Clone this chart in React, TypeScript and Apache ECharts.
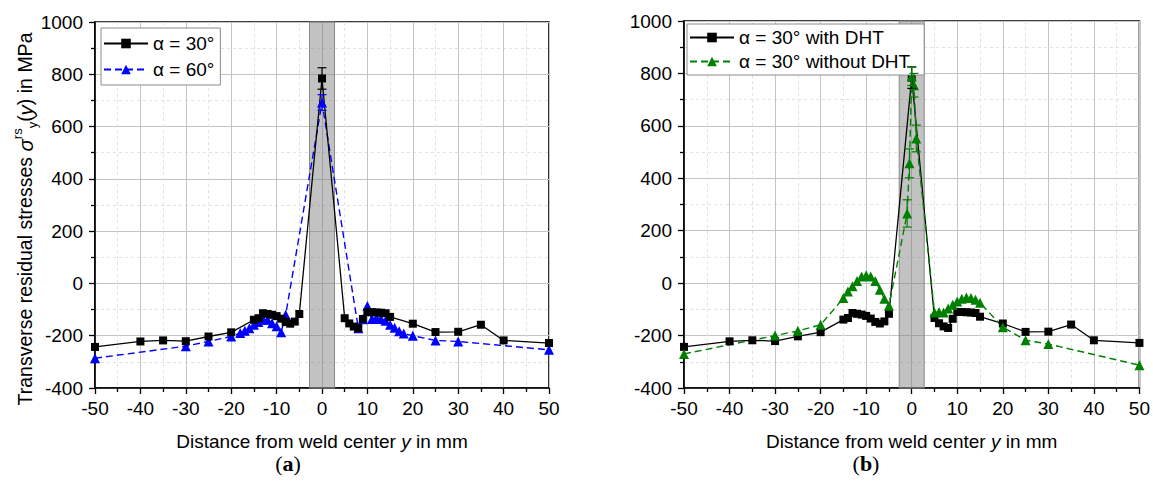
import React, { useEffect, useRef } from "react";
import * as echarts from "echarts";

// ---------- data ----------
const xBlack = [-50, -40, -35, -30, -25, -20, -15, -14, -13, -12, -11, -10, -9, -8, -7, -6, -5, 0, 5, 6, 7, 8, 9, 10, 11, 12, 13, 14, 15, 20, 25, 30, 35, 40, 50];
const yBlack = [-243, -222, -218, -221, -203, -187, -139, -133, -114, -117, -120, -125, -135, -148, -154, -146, -117, 784, -133, -153, -165, -171, -136, -110, -110, -111, -112, -114, -128, -154, -186, -185, -158, -218, -228];

const xBlue = [-50, -30, -25, -20, -18, -17, -16, -15, -14, -13, -12, -11, -10, -9, -8, 0, 8, 9, 10, 11, 12, 13, 14, 15, 16, 17, 18, 20, 25, 30, 50];
const yBlue = [-286, -240, -222, -203, -190, -181, -171, -158, -148, -139, -139, -152, -164, -187, -120, 692, -171, -137, -86, -136, -132, -136, -143, -158, -170, -183, -192, -200, -218, -222, -254];

const xGreen = [-50, -30, -25, -20, -15, -14, -13, -12, -11, -10, -9, -8, -7, -6, -5, -1, -0.5, 0, 0.5, 1, 5, 6, 7, 8, 9, 10, 11, 12, 13, 14, 15, 20, 25, 30, 50];
const yGreen = [-270, -200, -182, -159, -57, -32, -12, 8, 25, 30, 25, 8, -25, -60, -86, 266, 457, 789, 755, 552, -112, -110, -112, -97, -82, -70, -60, -55, -57, -63, -75, -168, -218, -232, -313];

const errBlackX = [0];
const errBlack = [41];
const errBlueX = [0];
const errBlue = [30];
const errGreenX = [-1, -0.5, 0, 0.5, 1];
const errGreen = [52, 55, 35, 45, 51];

const weldZone = [-2.75, 2.75];

const nameA1 = "α = 30°";
const nameA2 = "α = 60°";
const nameB1 = "α = 30° with DHT";
const nameB2 = "α = 30° without DHT";

// ---------- helpers ----------
const FONT = "Liberation Sans";
const FS = 19;
const pairs = (xs: number[], ys: number[]) => xs.map((x, i) => [x, ys[i]]);
const errData = (ex: number[], ee: number[], xs: number[], ys: number[]) =>
  ex.map((x, i) => {
    const c = ys[xs.indexOf(x)];
    return [x, c - ee[i], c + ee[i]];
  });

const plain = (v: number) => String(v);

function xAxisCfg(gridIndex: number) {
  return {
    type: "value",
    gridIndex,
    min: -50,
    max: 50,
    interval: 10,
    name: "Distance from weld center {i|y} in mm",
    nameLocation: "middle",
    nameGap: 44,
    nameTextStyle: {
      fontFamily: FONT,
      fontSize: FS,
      color: "#000",
      rich: { i: { fontFamily: FONT, fontSize: FS, fontStyle: "italic", color: "#000" } },
    },
    axisLine: { show: true, onZero: false, lineStyle: { color: "#000", width: 1.6 } },
    axisTick: { show: true, inside: false, length: 6, lineStyle: { color: "#000", width: 1.3 } },
    minorTick: { show: true, splitNumber: 2, length: 4, lineStyle: { color: "#000", width: 1.3 } },
    axisLabel: { fontFamily: FONT, fontSize: FS, color: "#000", margin: 11, formatter: plain },
    splitLine: { show: true, lineStyle: { color: "#c4c4c4", width: 1 } },
    minorSplitLine: { show: true, lineStyle: { color: "#e2e2e2", width: 1, type: [3, 3] } },
  };
}

function yAxisCfg(gridIndex: number) {
  return {
    type: "value",
    gridIndex,
    min: -400,
    max: 1000,
    interval: 200,
    axisLine: { show: true, onZero: false, lineStyle: { color: "#000", width: 1.6 } },
    axisTick: { show: true, inside: false, length: 6, lineStyle: { color: "#000", width: 1.3 } },
    minorTick: { show: true, splitNumber: 2, length: 4, lineStyle: { color: "#000", width: 1.3 } },
    axisLabel: { fontFamily: FONT, fontSize: FS, color: "#000", margin: 12, formatter: plain },
    splitLine: { show: true, lineStyle: { color: "#c4c4c4", width: 1 } },
    minorSplitLine: { show: true, lineStyle: { color: "#e2e2e2", width: 1, type: [3, 3] } },
  };
}

function bandSeries(idx: number) {
  return {
    type: "custom",
    xAxisIndex: idx,
    yAxisIndex: idx,
    z: 1,
    silent: true,
    data: [[weldZone[0], weldZone[1], 0]],
    encode: { x: [0, 1], y: 2 },
    renderItem: (params: any, api: any) => {
      const cs = params.coordSys;
      const p0 = api.coord([api.value(0), 0]);
      const p1 = api.coord([api.value(1), 0]);
      return {
        type: "rect",
        shape: { x: p0[0], y: cs.y, width: p1[0] - p0[0], height: cs.height },
        style: { fill: "rgba(120,120,120,0.45)", stroke: "#8a8a8a", lineWidth: 1 },
      };
    },
  };
}

function errSeries(idx: number, data: number[][], color: string) {
  return {
    type: "custom",
    xAxisIndex: idx,
    yAxisIndex: idx,
    z: 4,
    silent: true,
    data,
    encode: { x: 0, y: [1, 2] },
    renderItem: (_params: any, api: any) => {
      const x = api.value(0);
      const lo = api.coord([x, api.value(1)]);
      const hi = api.coord([x, api.value(2)]);
      const w = 4.5;
      const st = { stroke: color, lineWidth: 1.2 };
      return {
        type: "group",
        children: [
          { type: "line", shape: { x1: hi[0], y1: hi[1], x2: lo[0], y2: lo[1] }, style: st },
          { type: "line", shape: { x1: hi[0] - w, y1: hi[1], x2: hi[0] + w, y2: hi[1] }, style: st },
          { type: "line", shape: { x1: lo[0] - w, y1: lo[1], x2: lo[0] + w, y2: lo[1] }, style: st },
        ],
      };
    },
  };
}

function lineSeries(idx: number, name: string, data: number[][], color: string, dashed: boolean, symbol: string, size: number) {
  return {
    type: "line",
    name,
    xAxisIndex: idx,
    yAxisIndex: idx,
    z: 3,
    data,
    symbol,
    symbolSize: size,
    showAllSymbol: true,
    itemStyle: { color },
    lineStyle: { color, width: dashed ? 1.4 : 1.3, type: dashed ? [7, 4] : "solid" },
  };
}

const legendBase = {
  orient: "vertical",
  itemWidth: 44,
  itemHeight: 12,
  backgroundColor: "#fff",
  borderColor: "#8c8c8c",
  borderWidth: 1,
  borderRadius: 0,
  textStyle: { fontFamily: FONT, fontSize: FS, color: "#000" },
};

const caption = (x: number, letter: string) => ({
  type: "text",
  x,
  y: 463,
  style: {
    text: "({b|" + letter + "})",
    fontFamily: "Liberation Serif",
    fontSize: 22,
    fill: "#000",
    align: "center",
    verticalAlign: "middle",
    rich: { b: { fontFamily: "Liberation Serif", fontSize: 22, fontWeight: "bold", fill: "#000" } },
  },
});

export default function App() {
  const ref = useRef<HTMLDivElement>(null);
  useEffect(() => {
    if (!ref.current) return;
    const chart = echarts.init(ref.current, undefined, { renderer: "svg" });
    const option = {
      animation: false,
      backgroundColor: "#fff",
      grid: [
        { left: 95, top: 22, width: 454, height: 366, show: true, borderColor: "#000", borderWidth: 1.6, backgroundColor: "transparent" },
        { left: 684, top: 21, width: 457, height: 367, show: true, borderColor: "#000", borderWidth: 1.6, backgroundColor: "transparent" },
      ],
      xAxis: [xAxisCfg(0), xAxisCfg(1)],
      yAxis: [yAxisCfg(0), yAxisCfg(1)],
      legend: [
        { ...legendBase, data: [nameA1, nameA2], left: 101, top: 28, itemGap: 7, padding: [6, 6, 6, 2] },
        { ...legendBase, data: [nameB1, nameB2], left: 687, top: 24, itemGap: 5, padding: [4, 14, 4, 2] },
      ],
      graphic: [
        {
          type: "text",
          x: 25,
          y: 219,
          rotation: Math.PI / 2,
          style: {
            text: "Transverse residual stresses {it|σ}{sup|rs}{sub|y}({it|y}) in MPa",
            fontFamily: FONT,
            fontSize: 19.5,
            fill: "#000",
            align: "center",
            verticalAlign: "middle",
            rich: {
              it: { fontFamily: FONT, fontSize: 20.5, fontStyle: "italic", fill: "#000", lineHeight: 28 },
              sup: { fontFamily: FONT, fontSize: 13, fill: "#000", verticalAlign: "top", lineHeight: 15 },
              sub: { fontFamily: FONT, fontSize: 13, fill: "#000", verticalAlign: "bottom", lineHeight: 15 },
            },
          },
        },
        caption(288, "a"),
        caption(866, "b"),
      ],
      series: [
        bandSeries(0),
        bandSeries(1),
        lineSeries(0, nameA2, pairs(xBlue, yBlue), "#0000ff", true, "triangle", 10),
        lineSeries(0, nameA1, pairs(xBlack, yBlack), "#000000", false, "rect", 8),
        lineSeries(1, nameB1, pairs(xBlack, yBlack), "#000000", false, "rect", 8),
        lineSeries(1, nameB2, pairs(xGreen, yGreen), "#008000", true, "triangle", 10),
        errSeries(0, errData(errBlackX, errBlack, xBlack, yBlack), "#000000"),
        errSeries(0, errData(errBlueX, errBlue, xBlue, yBlue), "#0000ff"),
        errSeries(1, errData(errBlackX, errBlack, xBlack, yBlack), "#000000"),
        errSeries(1, errData(errGreenX, errGreen, xGreen, yGreen), "#008000"),
      ],
    };
    chart.setOption(option as any);
    return () => chart.dispose();
  }, []);
  return <div ref={ref} style={{ position: "absolute", left: 0, top: 0, width: 1153, height: 496 }} />;
}
